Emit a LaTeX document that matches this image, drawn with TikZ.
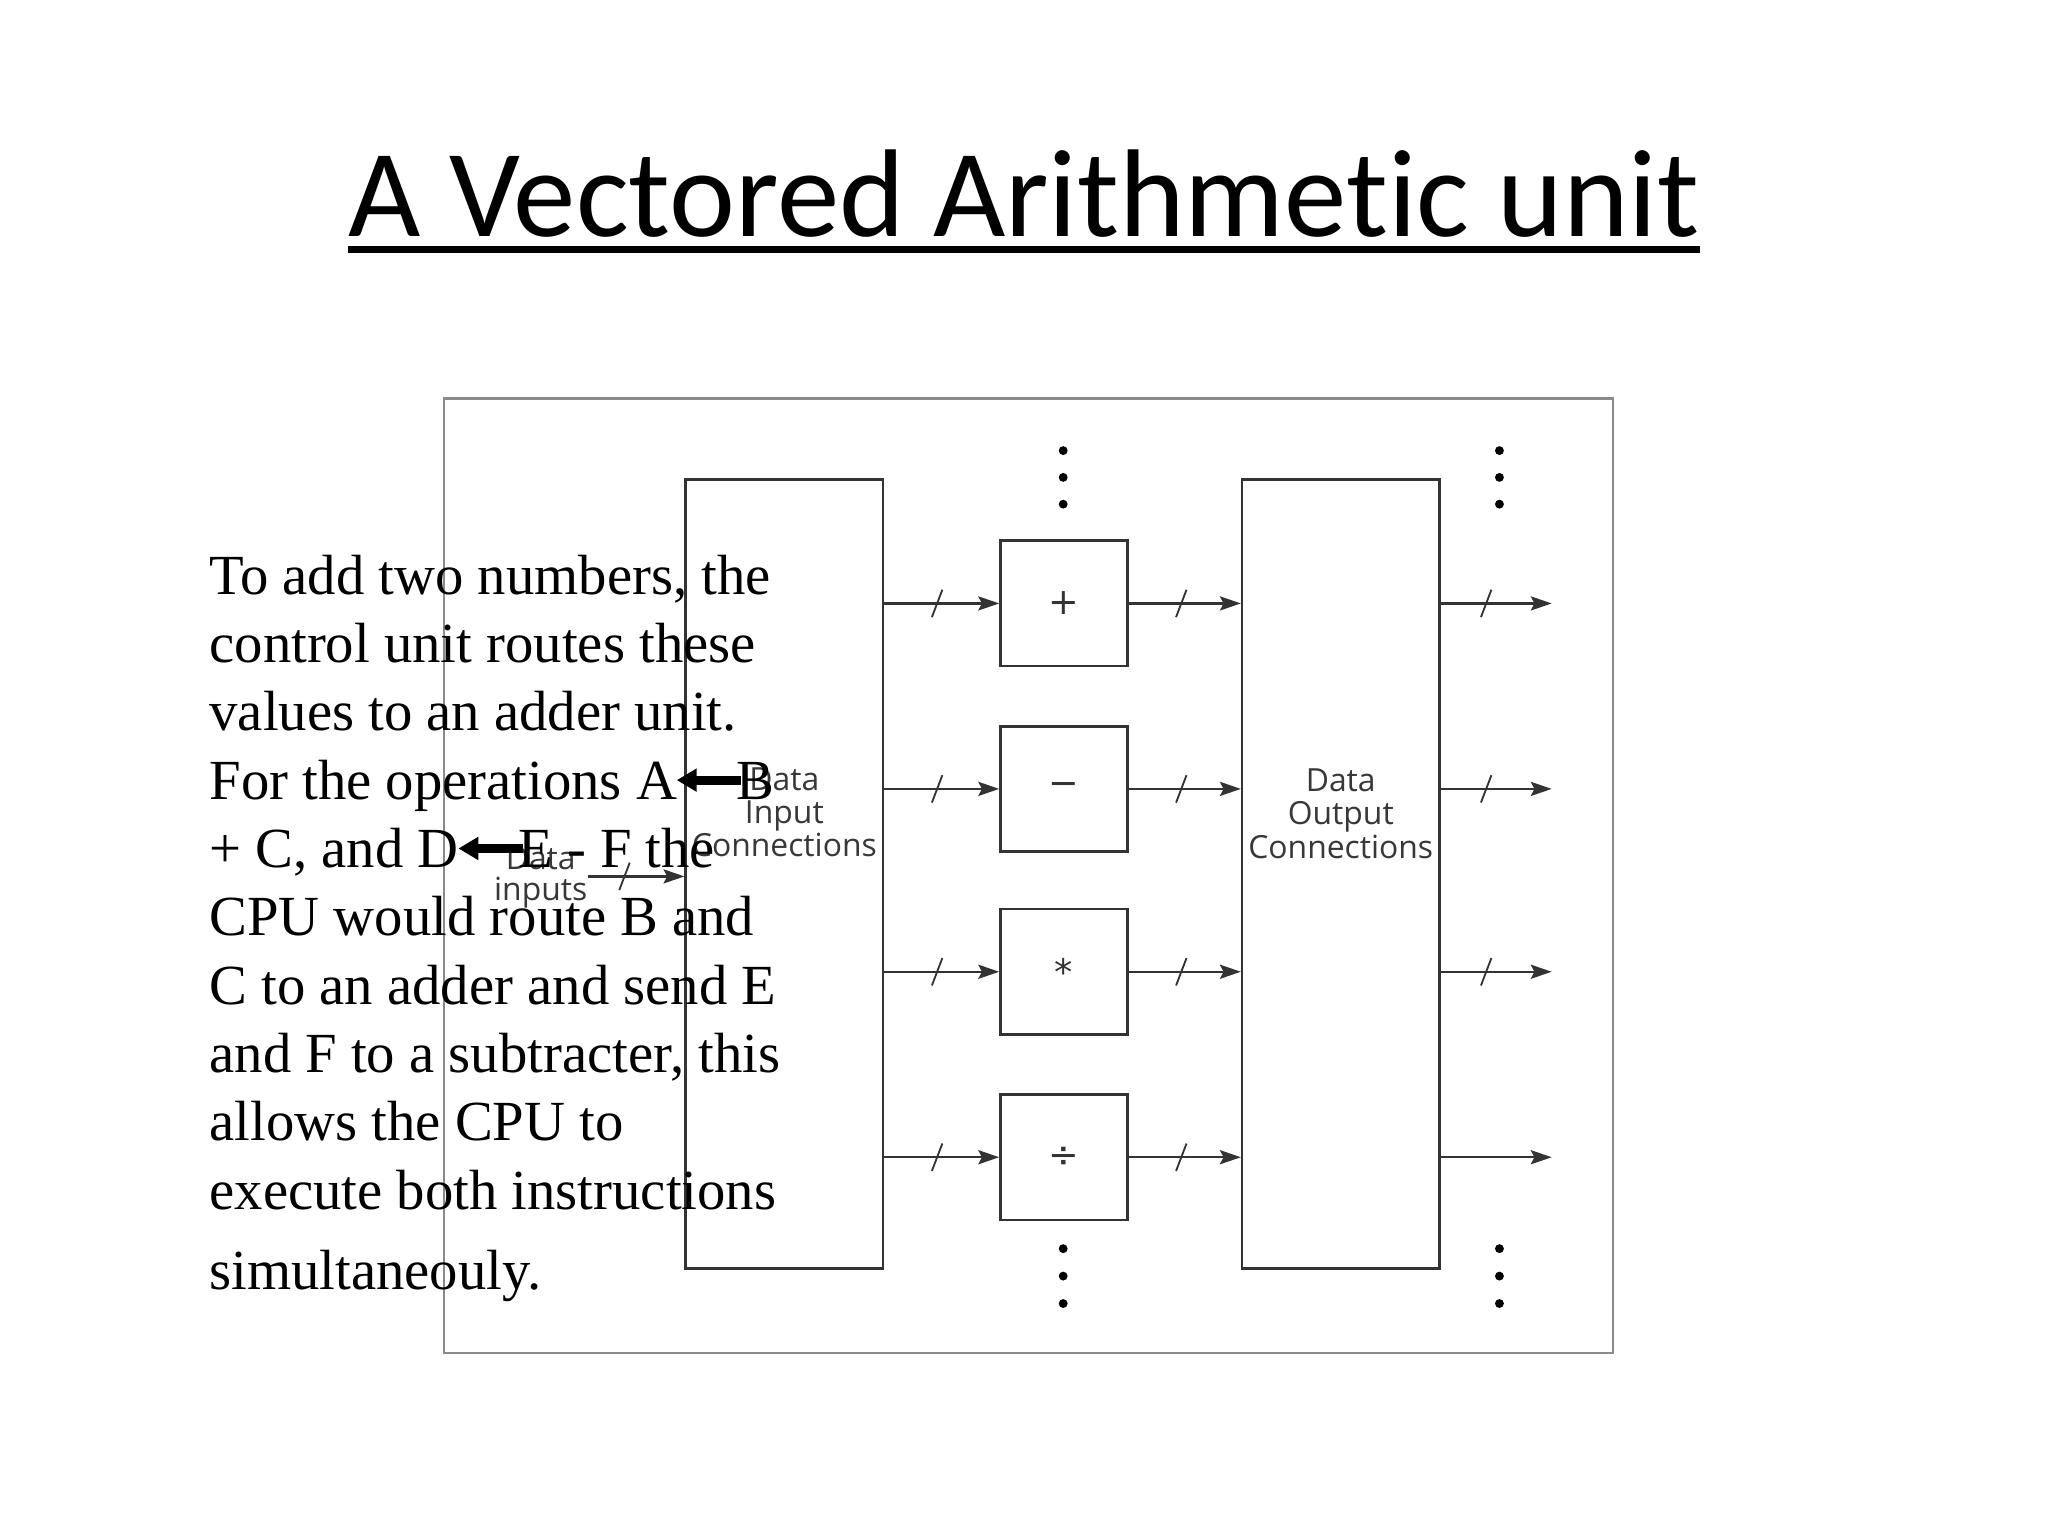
\documentclass[tikz,border=0pt]{standalone}
\usepackage{amssymb}
\usepackage{fontspec}
\setmainfont{Liberation Serif}
\newfontfamily\titlefont[RawFeature=-liga]{Carlito}
\newfontfamily\diagfont{Open Sans}
\newfontfamily\symfont{DejaVu Sans}
\usetikzlibrary{arrows.meta,calc}
\definecolor{linegray}{HTML}{333333}
\definecolor{framegray}{HTML}{8A8A8A}
\definecolor{labelgray}{HTML}{383838}
\newcommand{\opArrow}{\tikz[baseline=0pt,x=1pt,y=1pt]{\fill[black] (0,7.3) -- (7.5,11.8) -- (7.5,2.8) -- cycle; \fill[black] (6,5.6) rectangle (24.5,9.0);}\kern-1.7pt}
\begin{document}
\begin{tikzpicture}[x=0.5pt,y=-0.5pt,
  box/.style={draw=linegray, line width=1pt, inner sep=0pt},
  bigbox/.style={box, minimum width=75.5pt, minimum height=302pt},
  opbox/.style={box, minimum width=48.5pt, minimum height=48pt, font=\symfont\fontsize{14}{14}\selectfont, text=linegray},
  lbl/.style={font=\diagfont\fontsize{12.2}{12.75}\selectfont, text=labelgray, align=center, inner sep=0pt},
  arr/.style={draw=linegray, line width=0.85pt, -{Stealth[length=8pt,width=5.4pt,inset=1.4pt]}},
  slashline/.style={draw=linegray, line width=0.7pt},
  dotm/.style={circle, fill=black, inner sep=0pt, minimum size=3.4pt},
]
\useasboundingbox (0,0) rectangle (1568,1176);
\fill[white] (0,0) rectangle (1568,1176);

% title
\node[anchor=base, inner sep=0pt, font=\titlefont\fontsize{47.8}{50}\selectfont] (title) at (784,181) {A Vectored Arithmetic unit};
\draw[line width=2.8pt] ($(title.base west)+(0,10)$) -- ($(title.base east)+(0,10)$);

% frame
\node[draw=framegray, line width=1pt, minimum width=447.5pt, minimum height=365.5pt, inner sep=0pt] (frame) at (787.5,670.5) {};

% main boxes
\node[bigbox] (din) at (600.5,669) {};
\node[bigbox] (dout) at (1026.5,669) {};
\node[lbl] (dinlbl) at (600.5,622) {Data\\Input\\Connections};
\node[lbl] (doutlbl) at (1026.5,623) {Data\\Output\\Connections};

% operator boxes
\node[opbox] (add) at (814.5,462) {+};
\node[opbox] (sub) at (814.5,604) {−};
\node[opbox] (mul) at (814.5,744) {*};
\node[opbox] (div) at (814.5,886) {÷};

% free ends of outputs
\coordinate (ea) at (1188,462);
\coordinate (es) at (1188,604);
\coordinate (em) at (1188,744);
\coordinate (ed) at (1188,886);

\foreach \o/\e in {add/ea, sub/es, mul/em, div/ed}{
  \draw[arr] (din.east |- \o.west) -- coordinate[pos=0.46] (i\o) (\o.west);
  \draw[slashline] ($(i\o)+(-4,10.5)$) -- ($(i\o)+(4,-10.5)$);
  \draw[arr] (\o.east) -- coordinate[pos=0.47] (o\o) (dout.west |- \o.east);
  \draw[slashline] ($(o\o)+(-4,10.5)$) -- ($(o\o)+(4,-10.5)$);
  \draw[arr] (dout.east |- \o.east) -- coordinate[pos=0.41] (r\o) (\e);
}
\foreach \o in {add, sub, mul}{
  \draw[slashline] ($(r\o)+(-4,10.5)$) -- ($(r\o)+(4,-10.5)$);
}

% data inputs
\coordinate (dis) at (450,671);
\node[lbl, font=\diagfont\fontsize{12.2}{11.8}\selectfont] (dilbl) at (414,671.5) {Data\\inputs};
\draw[arr] (dis) -- coordinate[pos=0.38] (sd) (din.west |- dis);
\draw[slashline] ($(sd)+(-4,10.5)$) -- ($(sd)+(4,-10.5)$);

% dots
\foreach \x/\n in {814/m, 1148/r}{
  \foreach \y/\k in {345/1, 365.5/2, 386/3, 956/4, 977/5, 998/6}{
    \node[dotm] (dot\n\k) at (\x,\y) {};
  }
}

% paragraph
\node[anchor=base west, inner sep=0pt, font=\fontsize{21.7}{26.15}\selectfont] (para) at (160,455) {\begin{tabular}[t]{@{}l@{}}
To add two numbers, the\\
control unit routes these\\
values to an adder unit.\\
For the operations A\opArrow B\\
+ C, and D\opArrow E - F the\\
CPU would route B and\\
C to an adder and send E\\
and F to a subtracter, this\\
allows the CPU to\\
execute both instructions\\[4.5pt]
simultaneouly.
\end{tabular}};
\end{tikzpicture}
\end{document}
